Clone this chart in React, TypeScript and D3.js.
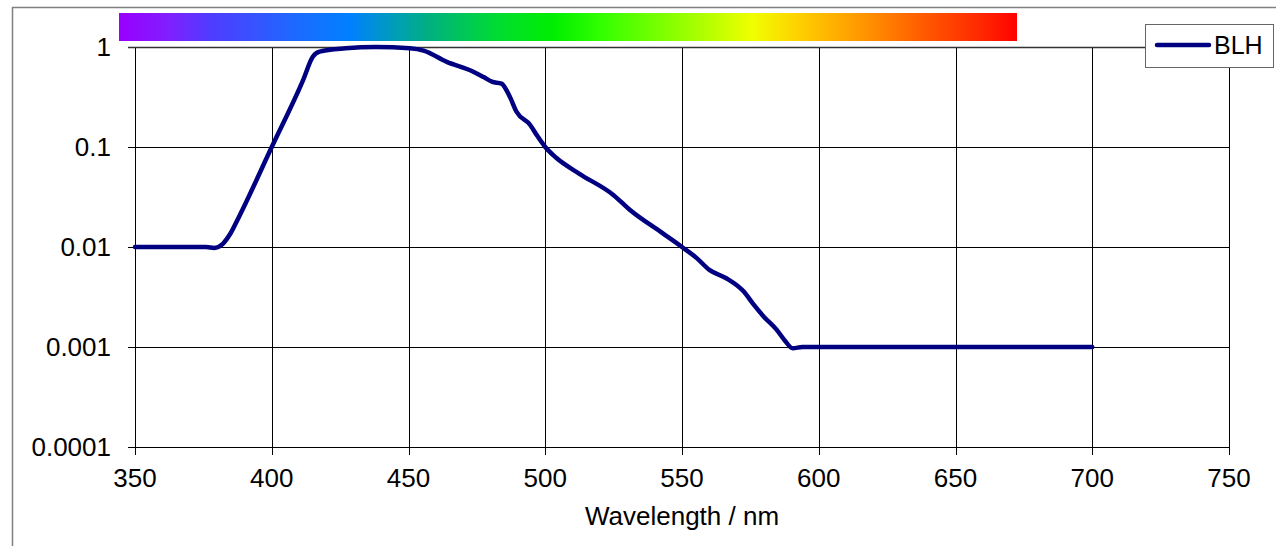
import * as d3 from "d3";

const wavelengths = [
  350, 365, 376, 379, 382, 385, 388, 400, 411.5, 415, 417.5, 427, 438, 450.5,
  455.5, 464, 473.5, 477.5, 480.5, 484, 487, 489.5, 494.5, 497, 500, 504,
  512.5, 525, 531, 543, 550, 555.5, 560, 566, 572.5, 576, 580, 584.5, 587.5,
  590.5, 594, 600, 650, 700,
];
const blh = [
  0.01, 0.01, 0.01, 0.0098, 0.0107, 0.0138, 0.02, 0.1, 0.47, 0.8, 0.9, 0.97,
  1.0, 0.97, 0.92, 0.71, 0.57, 0.5, 0.45, 0.43, 0.32, 0.225, 0.166, 0.13, 0.1,
  0.078, 0.054, 0.033, 0.0234, 0.0137, 0.01, 0.0077, 0.0059, 0.0049, 0.0036,
  0.0027, 0.002, 0.0015, 0.00117, 0.00097, 0.001, 0.001, 0.001, 0.001,
];

const xTicks = [350, 400, 450, 500, 550, 600, 650, 700, 750];
const yTicks = [1, 0.1, 0.01, 0.001, 0.0001];
const yTickLabels = ["1", "0.1", "0.01", "0.001", "0.0001"];

const spectrumStops = [
  "#9900ff", "#7f20ff", "#4f3cff", "#3356ff", "#1a6cff", "#0080ff",
  "#00a0b0", "#00b080", "#00dd30", "#00ee00", "#30ff00", "#aaff00",
  "#f0ff00", "#ffd000", "#ff9000", "#ff5500", "#ff2000", "#ff0000",
];
const spectrumOffsets = [
  0, 0.057, 0.102, 0.157, 0.202, 0.257, 0.312, 0.345, 0.423, 0.484, 0.535,
  0.646, 0.705, 0.757, 0.835, 0.902, 0.969, 1,
];

const width = 1276;
const height = 546;
const margin = { left: 135, right: 47, top: 47, bottom: 99 };
const font = "'Liberation Sans', Arial, sans-serif";

export default function App() {
  const x = d3
    .scaleLinear()
    .domain([350, 750])
    .range([margin.left, width - margin.right]);
  const y = d3
    .scaleLog()
    .domain([0.0001, 1])
    .range([height - margin.bottom, margin.top]);

  const line = d3
    .line<number>()
    .x((_, i) => x(wavelengths[i]))
    .y((d) => y(d))
    .curve(d3.curveMonotoneX);

  const plotBottom = y(0.0001);
  const plotTop = y(1);

  return (
    <svg
      width={width}
      height={height}
      style={{ position: "absolute", left: 0, top: 0, background: "#fff" }}
    >
      <defs>
        <linearGradient id="spectrum" x1="0" x2="1" y1="0" y2="0">
          {spectrumStops.map((c, i) => (
            <stop key={i} offset={spectrumOffsets[i]} stopColor={c} />
          ))}
        </linearGradient>
      </defs>
      <rect
        x={12.5}
        y={7.5}
        width={width}
        height={height}
        fill="none"
        stroke="#808080"
        strokeWidth={1.5}
      />
      <rect x={119} y={13} width={898} height={28} fill="url(#spectrum)" />

      {/* grid */}
      {xTicks.map((t) => (
        <line
          key={"gx" + t}
          x1={Math.round(x(t)) + 0.5}
          x2={Math.round(x(t)) + 0.5}
          y1={plotTop}
          y2={plotBottom + 8}
          stroke="#000"
          strokeWidth={1}
        />
      ))}
      {yTicks.map((t) => (
        <line
          key={"gy" + t}
          x1={margin.left - 7}
          x2={x(750)}
          y1={Math.round(y(t)) + 0.5}
          y2={Math.round(y(t)) + 0.5}
          stroke={t === 1 ? "#333" : "#000"}
          strokeWidth={t === 1 ? 1.5 : 1}
        />
      ))}

      {/* tick labels */}
      {yTicks.map((t, i) => (
        <text
          key={"ly" + t}
          x={111}
          y={y(t)}
          dy="0.36em"
          textAnchor="end"
          fontFamily={font}
          fontSize={26}
          fill="#000"
        >
          {yTickLabels[i]}
        </text>
      ))}
      {xTicks.map((t) => (
        <text
          key={"lx" + t}
          x={x(t)}
          y={487}
          textAnchor="middle"
          fontFamily={font}
          fontSize={26}
          fill="#000"
        >
          {t}
        </text>
      ))}
      <text
        x={(x(350) + x(750)) / 2}
        y={525}
        textAnchor="middle"
        fontFamily={font}
        fontSize={26}
        fill="#000"
      >
        Wavelength / nm
      </text>

      <path
        d={line(blh) ?? ""}
        fill="none"
        stroke="#000080"
        strokeWidth={4.5}
        strokeLinejoin="round"
        strokeLinecap="round"
      />

      {/* legend */}
      <rect
        x={1145.5}
        y={24.5}
        width={128}
        height={43}
        fill="#fff"
        stroke="#666"
        strokeWidth={1}
      />
      <line
        x1={1157}
        x2={1209}
        y1={45}
        y2={45}
        stroke="#000080"
        strokeWidth={4.5}
        strokeLinecap="round"
      />
      <text x={1214} y={54} fontFamily={font} fontSize={25} fill="#000">
        BLH
      </text>
    </svg>
  );
}
